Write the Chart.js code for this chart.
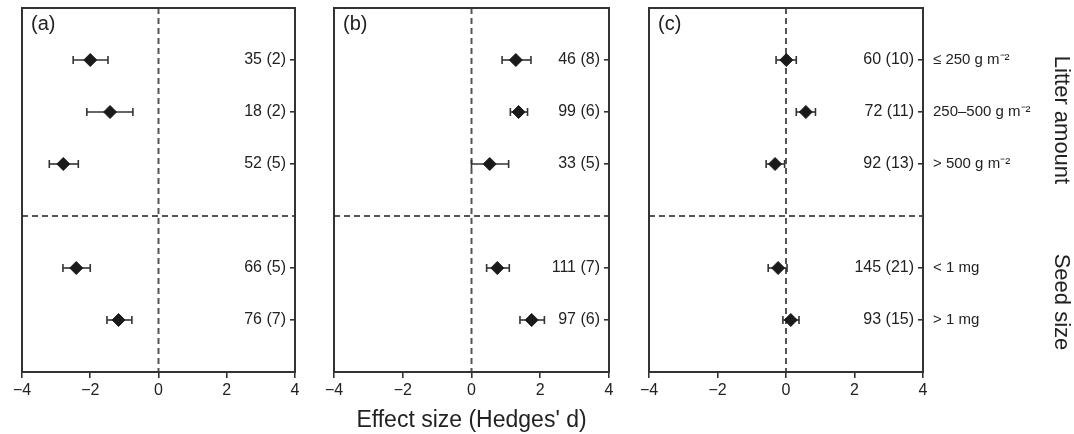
<!DOCTYPE html>
<html><head><meta charset="utf-8">
<script src="https://cdn.jsdelivr.net/npm/chart.js@4.4.1/dist/chart.umd.min.js"></script>
<style>
html,body{margin:0;padding:0;background:#fff;}
#wrap{position:relative;width:1074px;height:434px;overflow:hidden;background:#fff;}
.p{position:absolute;top:0;height:434px;}
</style></head><body>
<div id="wrap">
<div class="p" style="left:0;width:320px"><canvas id="ca"></canvas></div>
<div class="p" style="left:320px;width:320px"><canvas id="cb"></canvas></div>
<div class="p" style="left:640px;width:434px"><canvas id="cc"></canvas></div>
</div>
<script>
// ---- data ----
const categories = ['\u2264 250 g m\u207B\u00B2', '250\u2013500 g m\u207B\u00B2', '> 500 g m\u207B\u00B2', '< 1 mg', '> 1 mg'];
const groupNames = ['Litter amount', 'Seed size'];
const groupSizes = [3, 2];
const xTickValues = [-4, -2, 0, 2, 4];
const panelLetters = ['(a)', '(b)', '(c)'];
const xTitle = "Effect size (Hedges' d)";

const aMean = [-2.00, -1.42, -2.79, -2.41, -1.17];
const aLow  = [-2.50, -2.10, -3.20, -2.80, -1.51];
const aHigh = [-1.48, -0.75, -2.35, -2.00, -0.78];
const aN    = ['35 (2)', '18 (2)', '52 (5)', '66 (5)', '76 (7)'];

const bMean = [1.29, 1.37, 0.53, 0.75, 1.75];
const bLow  = [0.89, 1.13, 0.00, 0.44, 1.41];
const bHigh = [1.73, 1.63, 1.08, 1.10, 2.12];
const bN    = ['46 (8)', '99 (6)', '33 (5)', '111 (7)', '97 (6)'];

const cMean = [0.01, 0.58, -0.32, -0.23, 0.14];
const cLow  = [-0.29, 0.30, -0.58, -0.52, -0.09];
const cHigh = [0.30, 0.86, -0.04, 0.03, 0.38];
const cN    = ['60 (10)', '72 (11)', '92 (13)', '145 (21)', '93 (15)'];

// ---- structure: row slots with a gap between groups ----
const rowPos = [];
const separators = [];
const groupRange = [];
let slot = 0;
groupSizes.forEach((n, g) => {
  const first = slot + 1;
  for (let i = 0; i < n; i++) rowPos.push(++slot);
  groupRange.push([first, slot]);
  slot++;
  if (g < groupSizes.length - 1) separators.push(slot);
});
const yMax = slot;

Chart.defaults.font.family = "'Liberation Sans', Arial, Helvetica, sans-serif";
Chart.defaults.color = '#222';

const INK = '#1a1a1a';
const LINE = '#333';

function noPad(s) { s.paddingTop = 0; s.paddingBottom = 0; s.paddingLeft = 0; s.paddingRight = 0; }

function panelPlugin(letter, withGroups) {
  return {
    id: 'panelDeco',
    beforeDatasetsDraw(chart) {
      const {ctx, chartArea: a, scales: {x, y}} = chart;
      ctx.save();
      ctx.strokeStyle = '#555';
      ctx.lineWidth = 2;
      ctx.setLineDash([6, 4]);
      const x0 = x.getPixelForValue(0);
      ctx.beginPath(); ctx.moveTo(x0, a.top); ctx.lineTo(x0, a.bottom); ctx.stroke();
      separators.forEach(s => {
        const yy = y.getPixelForValue(s);
        ctx.beginPath(); ctx.moveTo(a.left, yy); ctx.lineTo(a.right, yy); ctx.stroke();
      });
      ctx.restore();
    },
    afterDraw(chart) {
      const {ctx, chartArea: a, scales: {y}} = chart;
      ctx.save();
      ctx.strokeStyle = LINE;
      ctx.lineWidth = 2;
      ctx.strokeRect(a.left, a.top, a.right - a.left, a.bottom - a.top);
      ctx.fillStyle = '#222';
      ctx.font = "20px 'Liberation Sans', Arial, sans-serif";
      ctx.textBaseline = 'top';
      ctx.textAlign = 'left';
      ctx.fillText(letter, a.left + 9, a.top + 6);
      if (withGroups) {
        ctx.font = "22px 'Liberation Sans', Arial, sans-serif";
        ctx.textAlign = 'center';
        ctx.textBaseline = 'middle';
        groupNames.forEach((name, g) => {
          const [f, l] = groupRange[g];
          const cy = y.getPixelForValue((f + l) / 2) + 8;
          ctx.save();
          ctx.translate(a.right + 138, cy);
          ctx.rotate(Math.PI / 2);
          ctx.fillText(name, 0, 0);
          ctx.restore();
        });
      }
      ctx.restore();
    }
  };
}

function makePanel(id, mean, low, high, nLabels, padding, letter, opts) {
  const datasets = [{
    data: mean.map((m, i) => ({x: m, y: rowPos[i]})),
    pointStyle: 'rectRot',
    pointRadius: 6.5,
    backgroundColor: INK,
    borderColor: INK,
    borderWidth: 1,
    order: 0
  }];
  mean.forEach((m, i) => {
    datasets.push({
      data: [{x: low[i], y: rowPos[i]}, {x: high[i], y: rowPos[i]}],
      showLine: true,
      borderColor: LINE,
      borderWidth: 1.6,
      pointStyle: 'line',
      pointRotation: 90,
      pointRadius: 4,
      pointBorderWidth: 1.6,
      pointBorderColor: LINE,
      order: 1
    });
  });
  const rowTicks = s => { s.ticks = rowPos.map(v => ({value: v})); };
  const scales = {
    x: {
      type: 'linear', min: -4, max: 4,
      afterBuildTicks: s => { s.ticks = xTickValues.map(v => ({value: v})); },
      ticks: {
        color: '#222', font: {size: 16}, padding: 3, autoSkip: false, maxRotation: 0,
        callback: v => String(v).replace('-', '\u2212')
      },
      grid: {drawOnChartArea: false, drawTicks: true, tickLength: 6, color: LINE, lineWidth: 1.6},
      border: {display: false},
      title: {display: !!opts.title, text: opts.title || '', font: {size: 23}, color: '#222', padding: 0},
      afterFit: s => { s.height = 62; noPad(s); }
    },
    y: {
      type: 'linear', position: 'right', min: 0, max: yMax, reverse: true,
      afterBuildTicks: rowTicks,
      ticks: {
        mirror: true, padding: -9, color: '#222', font: {size: 16},
        callback: v => nLabels[rowPos.indexOf(v)]
      },
      grid: {drawOnChartArea: false, drawTicks: true, tickLength: -5, color: LINE, lineWidth: 1.6},
      border: {display: false},
      afterFit: s => { s.width = 0; noPad(s); }
    }
  };
  if (opts.withCats) {
    scales.y2 = {
      type: 'linear', position: 'right', min: 0, max: yMax, reverse: true, weight: 1,
      afterBuildTicks: rowTicks,
      ticks: {
        padding: 10, color: '#222', font: {size: 15},
        callback: v => categories[rowPos.indexOf(v)]
      },
      grid: {display: false, drawOnChartArea: false, drawTicks: false},
      border: {display: false},
      afterFit: s => { s.width = 110; noPad(s); }
    };
  }
  return new Chart(document.getElementById(id), {
    type: 'scatter',
    data: {datasets},
    options: {
      responsive: true, maintainAspectRatio: false, animation: false, events: [],
      layout: {padding: padding},
      plugins: {legend: {display: false}, tooltip: {enabled: false}},
      scales
    },
    plugins: [panelPlugin(letter, !!opts.withCats)]
  });
}

makePanel('ca', aMean, aLow, aHigh, aN, {left: 22, right: 25, top: 8, bottom: 0}, panelLetters[0], {});
makePanel('cb', bMean, bLow, bHigh, bN, {left: 14, right: 31, top: 8, bottom: 0}, panelLetters[1], {title: xTitle});
makePanel('cc', cMean, cLow, cHigh, cN, {left: 9, right: 41, top: 8, bottom: 0}, panelLetters[2], {withCats: true});
</script>
</body></html>
